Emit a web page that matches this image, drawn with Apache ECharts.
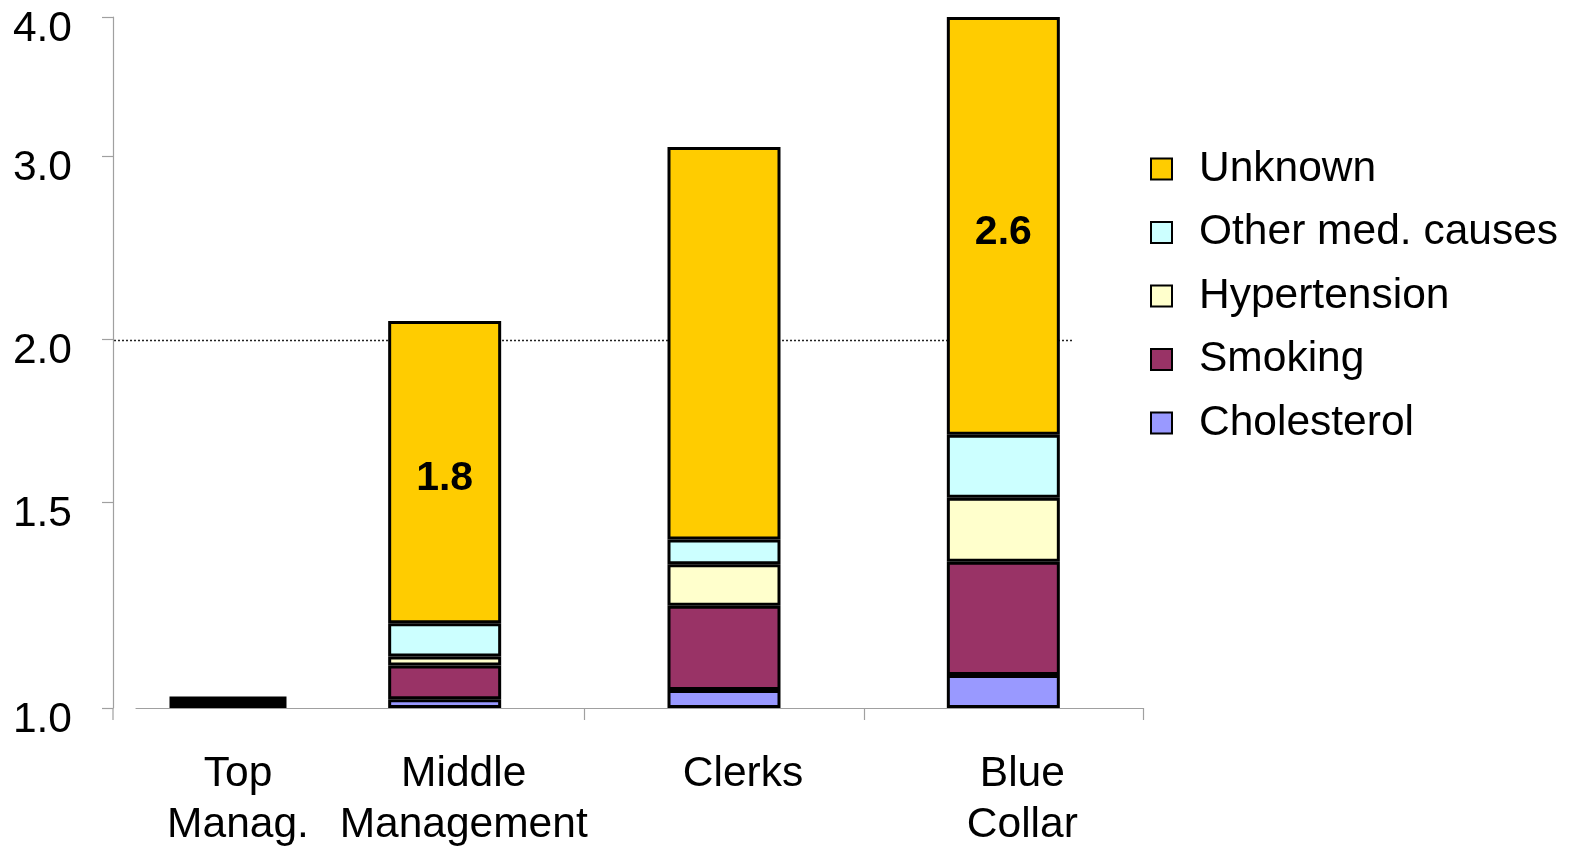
<!DOCTYPE html>
<html>
<head>
<meta charset="utf-8">
<title>Relative risk by occupational group</title>
<script src="https://cdn.jsdelivr.net/npm/echarts@6/dist/echarts.min.js"></script>
<style>
  html, body { margin: 0; padding: 0; background: #ffffff; }
  #chart { width: 1569px; height: 855px; }
</style>
</head>
<body>
<div id="chart"></div>
<script>
// Occupational groups
const refCategory = ['Top\nManag.'];
const categories = ['Middle\nManagement', 'Clerks', 'Blue\nCollar'];

// Reference group bar (relative risk)
const refValue = [1.028];

// Cumulative relative risk at the top of each risk-factor segment
const cholesterolTop  = [1.021, 1.044, 1.080];
const smokingTop      = [1.103, 1.248, 1.355];
const hypertensionTop = [1.125, 1.349, 1.513];
const otherTop        = [1.206, 1.409, 1.707];
const unknownTop      = [2.102, 3.064, 4.000];

// Annotations printed inside the "Unknown" segment
const unknownNotes = ['1.8', '', '2.6'];

// Risk axis: tick values and where each sits along the axis (0..100)
const tickValues = [1.0, 1.5, 2.0, 3.0, 4.0];
const tickLabels = ['1.0', '1.5', '2.0', '3.0', '4.0'];
const tickStops  = [0, 29.8, 53.3, 79.9, 100];

// Piecewise scale between the tick stops
function toAxis(v) {
  for (let i = 1; i < tickValues.length; i++) {
    if (v <= tickValues[i] || i === tickValues.length - 1) {
      const f = (v - tickValues[i - 1]) / (tickValues[i] - tickValues[i - 1]);
      return tickStops[i - 1] + f * (tickStops[i] - tickStops[i - 1]);
    }
  }
  return tickStops[tickStops.length - 1];
}

const FONT = "'Liberation Sans', Arial, Helvetica, sans-serif";
const FONT_SIZE = 42.5;
const AXIS_GRAY = '#a0a0a0';

const layers = [
  { name: 'Cholesterol',       top: cholesterolTop,  color: '#9999FF' },
  { name: 'Smoking',           top: smokingTop,      color: '#993366' },
  { name: 'Hypertension',      top: hypertensionTop, color: '#FFFFCC' },
  { name: 'Other med. causes', top: otherTop,        color: '#CCFFFF' },
  { name: 'Unknown',           top: unknownTop,      color: '#FFCC00' }
];

const stackSeries = layers.map((layer, k) => {
  const below = k === 0 ? categories.map(() => 1.0) : layers[k - 1].top;
  const seg = layer.top.map((t, i) => toAxis(t) - toAxis(below[i]));
  const s = {
    name: layer.name,
    type: 'bar',
    stack: 'risk',
    xAxisIndex: 1,
    yAxisIndex: 1,
    barWidth: 113,
    data: seg,
    itemStyle: { color: layer.color, borderColor: '#000', borderWidth: 3 }
  };
  if (layer.name === 'Unknown') {
    s.label = {
      show: true,
      position: 'inside',
      offset: [0, 7],
      formatter: p => unknownNotes[p.dataIndex],
      fontFamily: FONT,
      fontSize: 41,
      fontWeight: 'bold',
      color: '#000'
    };
  }
  return s;
});

const yAxisCommon = {
  type: 'value',
  min: 0,
  max: 100
};

const chart = echarts.init(document.getElementById('chart'), null, { renderer: 'canvas' });

chart.setOption({
  animation: false,
  backgroundColor: '#ffffff',
  grid: [
    { left: 136, width: 184, top: 17, bottom: 147 },
    { left: 305, width: 838, top: 17, bottom: 147 }
  ],
  xAxis: [
    {
      type: 'category',
      gridIndex: 0,
      data: refCategory,
      axisLine: { lineStyle: { color: AXIS_GRAY, width: 1.2 } },
      axisTick: { show: false },
      axisLabel: {
        margin: 41, color: '#000', fontFamily: FONT, fontSize: FONT_SIZE, lineHeight: 51,
        padding: [0, 0, 0, 20]
      }
    },
    {
      type: 'category',
      gridIndex: 1,
      data: categories,
      axisLine: { lineStyle: { color: AXIS_GRAY, width: 1.2 } },
      axisTick: { show: false },
      axisLabel: {
        interval: 0,
        margin: 41, color: '#000', fontFamily: FONT, fontSize: FONT_SIZE, lineHeight: 51,
        padding: [0, 0, 0, 38]
      }
    }
  ],
  yAxis: [
    Object.assign({}, yAxisCommon, {
      gridIndex: 0,
      position: 'left',
      offset: 23,
      axisLine: { show: true, lineStyle: { color: AXIS_GRAY, width: 1.2 } },
      axisTick: { show: true, length: 11, customValues: tickStops, lineStyle: { color: AXIS_GRAY, width: 1.2 } },
      axisLabel: {
        customValues: tickStops,
        formatter: (v) => {
          const i = tickStops.findIndex(s => Math.abs(s - v) < 1e-6);
          return i >= 0 ? tickLabels[i] : '';
        },
        margin: 41,
        color: '#000',
        fontFamily: FONT,
        fontSize: FONT_SIZE,
        verticalAlign: 'top',
        lineHeight: 24
      },
      splitLine: { show: false }
    }),
    Object.assign({}, yAxisCommon, {
      gridIndex: 1,
      show: false,
      splitLine: { show: false }
    })
  ],
  legend: {
    orient: 'vertical',
    left: 1150,
    top: 147,
    padding: 0,
    itemWidth: 21,
    itemHeight: 21,
    itemGap: 19.5,
    icon: 'rect',
    data: ['Unknown', 'Other med. causes', 'Hypertension', 'Smoking', 'Cholesterol'],
    itemStyle: { borderColor: '#000', borderWidth: 2 },
    textStyle: {
      fontFamily: FONT,
      fontSize: FONT_SIZE,
      lineHeight: 30,
      color: '#000',
      padding: [0, 0, 14, 22]
    }
  },
  series: [
    {
      name: 'Top management',
      type: 'bar',
      xAxisIndex: 0,
      yAxisIndex: 0,
      barWidth: 117,
      data: refValue.map(v => toAxis(v)),
      itemStyle: { color: '#000' }
    }
  ].concat(stackSeries)
});

// Dotted reference line at 2.0, the axis stub below the baseline,
// and the category boundary ticks, all placed through the axis scales
const yTwo = chart.convertToPixel({ yAxisIndex: 0 }, toAxis(2.0));
const yBase = chart.convertToPixel({ yAxisIndex: 0 }, toAxis(1.0));
const centers = categories.map((c, i) => chart.convertToPixel({ xAxisIndex: 1 }, i));
const halfBand = (centers[1] - centers[0]) / 2;

const extras = [
  {
    type: 'line',
    z: 0,
    silent: true,
    shape: { x1: 114, y1: Math.round(yTwo) + 0.5, x2: 1073, y2: Math.round(yTwo) + 0.5 },
    style: { stroke: '#222', lineWidth: 1.5, lineDash: [2, 2] }
  },
  {
    type: 'line',
    z: 0,
    silent: true,
    shape: { x1: 113, y1: yBase, x2: 113, y2: yBase + 12 },
    style: { stroke: AXIS_GRAY, lineWidth: 1.2 }
  }
];
centers.forEach(c => {
  const x = Math.round(c + halfBand) + 0.5;
  extras.push({
    type: 'line',
    z: 0,
    silent: true,
    shape: { x1: x, y1: yBase, x2: x, y2: yBase + 12 },
    style: { stroke: AXIS_GRAY, lineWidth: 1.2 }
  });
});
chart.setOption({ graphic: extras });
</script>
</body>
</html>
